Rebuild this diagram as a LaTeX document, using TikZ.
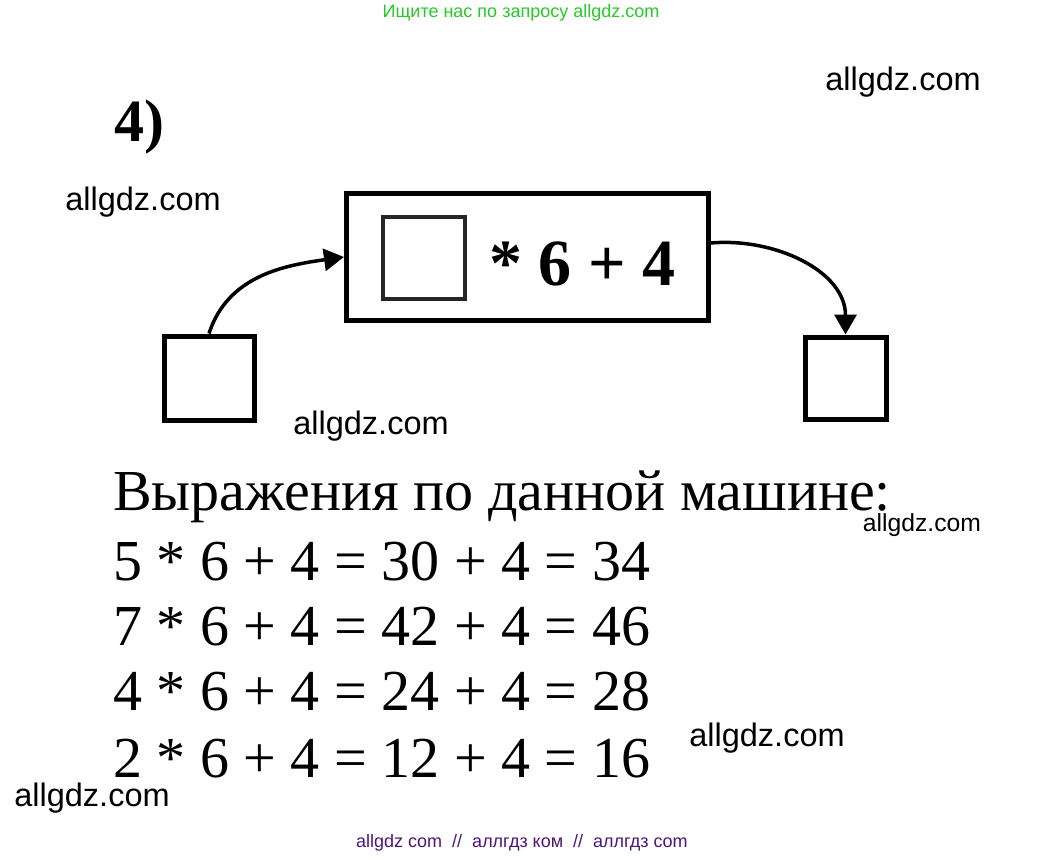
\documentclass[tikz,border=0pt]{standalone}
\usepackage{fontspec}
\setmainfont{Liberation Serif}
\newfontfamily\wmfont{Liberation Sans}
\usetikzlibrary{arrows.meta}
\definecolor{topgreen}{RGB}{40,200,40}
\definecolor{botpurple}{RGB}{80,20,120}
\tikzset{
  wm/.style={font=\wmfont\fontsize{32.5}{32.5}\selectfont, inner sep=0pt, anchor=center},
  box/.style={draw=black, line width=5pt, inner sep=0pt},
  conn/.style={line width=3.5pt, -{Triangle[length=20pt,width=22pt]}},
  serifline/.style={font=\fontsize{58}{58}\selectfont, inner sep=0pt, anchor=base west},
}
\begin{document}
\begin{tikzpicture}[x=1pt,y=-1pt]
\useasboundingbox (0,0) rectangle (1045,860);
\node[font=\wmfont\fontsize{18}{18}\selectfont, text=topgreen, inner sep=0pt] (top) at (521,13) {Ищите нас по запросу allgdz.com};
\node[font=\wmfont\fontsize{18}{18}\selectfont, text=botpurple, inner sep=0pt] (bot) at (522,843) {allgdz com\ \ //\ \ аллгдз ком\ \ //\ \ аллгдз com};
\node[font=\bfseries\fontsize{60}{60}\selectfont, inner sep=0pt, anchor=base west] (num) at (114,141) {4)};
\node[wm] (w1) at (903,82) {allgdz.com};
\node[wm] (w2) at (143,202) {allgdz.com};
\node[wm] (w3) at (371,426) {allgdz.com};
\node[wm, font=\wmfont\fontsize{24.7}{24.7}\selectfont] (w4) at (922,525) {allgdz.com};
\node[wm] (w5) at (767,738) {allgdz.com};
\node[wm] (w6) at (92,798) {allgdz.com};
% machine
\node[box, minimum width=362pt, minimum height=127pt] (main) at (527.5,257) {};
\node[draw=black!85, line width=4pt, minimum width=82pt, minimum height=82pt, inner sep=0pt] (inbox) at (424,257.5) {};
\node[font=\bfseries\fontsize{66}{66}\selectfont, inner sep=0pt, anchor=base west] (expr) at (489,285) {* 6 + 4};
\node[box, minimum width=90pt, minimum height=84pt] (lbox) at (209,378) {};
\node[box, minimum width=81pt, minimum height=82pt] (rbox) at (845.5,378) {};
\draw[conn] (lbox.north) to[out=72, in=188] (main.west |- 0,257);
\coordinate (rs) at (main.east |- 0,243);
\draw[conn] (rs) to[out=5, in=90] (rbox.north);
% text
\node[serifline] (t0) at (113,510) {Выражения по данной машине:};
\node[serifline] (t1) at (113,580) {5 * 6 + 4 = 30 + 4 = 34};
\node[serifline] (t2) at (113,645) {7 * 6 + 4 = 42 + 4 = 46};
\node[serifline] (t3) at (113,710) {4 * 6 + 4 = 24 + 4 = 28};
\node[serifline] (t4) at (113,777) {2 * 6 + 4 = 12 + 4 = 16};
\end{tikzpicture}
\end{document}
